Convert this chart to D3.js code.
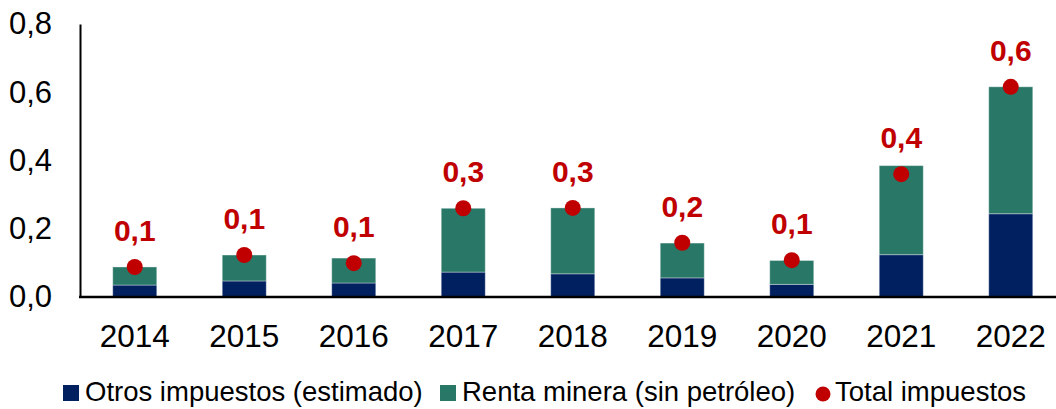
<!DOCTYPE html>
<html>
<head>
<meta charset="utf-8">
<script src="https://cdn.jsdelivr.net/npm/d3@7"></script>
<style>
  html, body { margin: 0; padding: 0; background: #fff; }
  svg { display: block; font-family: "Liberation Sans", Arial, sans-serif; }
</style>
</head>
<body>
<svg id="chart" width="1056" height="409"></svg>
<script>
// Categories and series
const years = ["2014", "2015", "2016", "2017", "2018", "2019", "2020", "2021", "2022"];
const otrosImpuestos = [0.035, 0.047, 0.041, 0.073, 0.068, 0.056, 0.037, 0.124, 0.244];
const rentaMinera    = [0.053, 0.076, 0.073, 0.187, 0.193, 0.102, 0.070, 0.261, 0.372];
const totalImpuestos = [0.088, 0.123, 0.099, 0.260, 0.261, 0.159, 0.108, 0.360, 0.616];
const yTicks = [0, 0.2, 0.4, 0.6, 0.8];
const legendLabels = ["Otros impuestos (estimado)", "Renta minera (sin petróleo)", "Total impuestos"];

const colors = { otros: "#002060", renta: "#297767", total: "#C00000" };
const fmt = v => d3.format(".1f")(v).replace(".", ",");

const svg = d3.select("#chart");
const plotLeft = 80, plotRight = 1065.5, plotTop = 24, plotBottom = 297;

const x = d3.scaleBand()
  .domain(years)
  .range([plotLeft, plotRight])
  .paddingInner(0.598)
  .paddingOuter(0.299);

const y = d3.scaleLinear().domain([0, 0.8]).range([plotBottom, plotTop]);

// Stacked bars
const rows = years.map((yr, i) => ({ year: yr, otros: otrosImpuestos[i], renta: rentaMinera[i], total: totalImpuestos[i] }));
const stack = d3.stack().keys(["otros", "renta"])(rows);

svg.append("g").selectAll("g")
  .data(stack)
  .join("g")
  .attr("fill", d => colors[d.key])
  .selectAll("rect")
  .data(d => d)
  .join("rect")
  .attr("x", d => x(d.data.year))
  .attr("width", x.bandwidth())
  .attr("y", d => y(d[1]))
  .attr("height", d => y(d[0]) - y(d[1]))
  .attr("stroke", "rgba(255,255,255,0.35)")
  .attr("stroke-width", 1);

// Axes
const yAxis = svg.append("g")
  .attr("transform", `translate(${plotLeft},0)`)
  .call(d3.axisLeft(y).tickValues(yTicks).tickSize(0).tickPadding(28).tickFormat(fmt));
yAxis.select(".domain").attr("stroke", "#000").attr("stroke-width", 2);
yAxis.selectAll("text")
  .attr("font-size", 31)
  .attr("fill", "#000")
  .attr("font-family", "Liberation Sans, Arial, sans-serif");

const xAxis = svg.append("g")
  .attr("transform", `translate(0,${plotBottom})`)
  .call(d3.axisBottom(x).tickSize(0).tickPadding(0));
xAxis.select(".domain").remove();
xAxis.append("line")
  .attr("x1", plotLeft - 1).attr("x2", 1056)
  .attr("y1", 0).attr("y2", 0)
  .attr("stroke", "#000").attr("stroke-width", 2.5);
xAxis.selectAll(".tick text")
  .attr("font-size", 31.5)
  .attr("fill", "#000")
  .attr("dy", null)
  .attr("y", 50)
  .attr("font-family", "Liberation Sans, Arial, sans-serif");

// Total markers and value labels
const cx = d => x(d.year) + x.bandwidth() / 2;
svg.append("g").selectAll("circle")
  .data(rows)
  .join("circle")
  .attr("cx", cx)
  .attr("cy", d => y(d.total))
  .attr("r", 8)
  .attr("fill", colors.total);

svg.append("g").selectAll("text")
  .data(rows)
  .join("text")
  .attr("x", cx)
  .attr("y", d => y(d.total) - 26)
  .attr("text-anchor", "middle")
  .attr("font-size", 30)
  .attr("font-weight", "bold")
  .attr("fill", colors.total)
  .text(d => fmt(d.total));

// Legend
const legend = svg.append("g").attr("font-size", 27.5).attr("fill", "#000");
legend.append("rect").attr("x", 63).attr("y", 385).attr("width", 16).attr("height", 16).attr("fill", colors.otros);
legend.append("text").attr("x", 85).attr("y", 401).text(legendLabels[0]);
legend.append("rect").attr("x", 440).attr("y", 385).attr("width", 16).attr("height", 16).attr("fill", colors.renta);
legend.append("text").attr("x", 462).attr("y", 401).text(legendLabels[1]);
legend.append("circle").attr("cx", 823).attr("cy", 394).attr("r", 7.5).attr("fill", colors.total);
legend.append("text").attr("x", 835).attr("y", 401).text(legendLabels[2]);
</script>
</body>
</html>
